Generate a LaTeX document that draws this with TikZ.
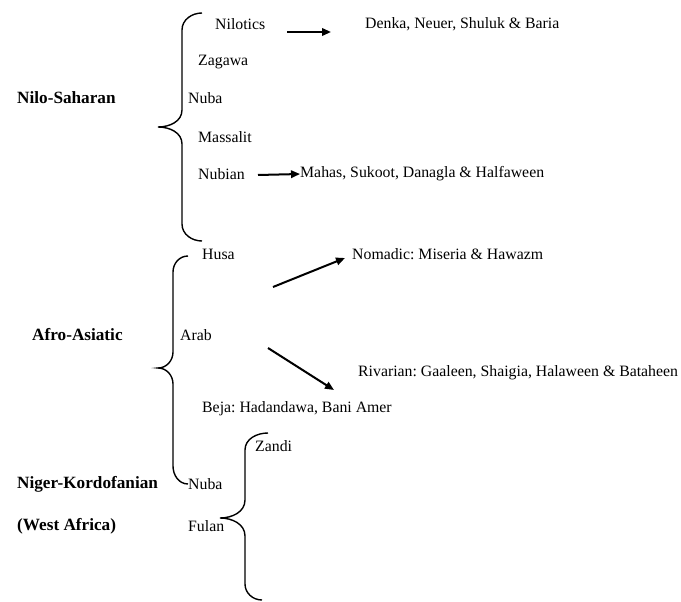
\documentclass[tikz,border=0pt]{standalone}
\usepackage{fontspec}
\setmainfont{Liberation Serif}
\usetikzlibrary{arrows.meta,calc}
\frenchspacing
\begin{document}
\begin{tikzpicture}[x=1pt,y=-1pt,
  font=\fontsize{15.8}{18}\selectfont,
  lbl/.style={anchor=west,inner sep=0pt},
  grp/.style={lbl,font=\fontsize{17.2}{20}\selectfont\bfseries},
  bracepath/.style={line width=1.4pt},
  arr/.style={line width=2pt,-{Triangle[length=9pt,width=7.5pt]}}]
\useasboundingbox (0,0) rectangle (681,602);
\fill[white] (0,0) rectangle (681,602);

% labels
\node[lbl] (nil) at (215,24) {Nilotics};
\node[lbl] (denka) at (365,24) {Denka, Neuer, Shuluk \& Baria};
\node[lbl] (zag) at (198,62) {Zagawa};
\node[grp] (ns) at (17,98) {Nilo-Saharan};
\node[lbl] (nubaA) at (188,98) {Nuba};
\node[lbl] (mass) at (198,137) {Massalit};
\node[lbl] (nubian) at (198,174) {Nubian};
\node[lbl] (mahas) at (300,174) {Mahas, Sukoot, Danagla \& Halfaween};
\node[lbl] (husa) at (202,254) {Husa};
\node[lbl] (nomad) at (352,254) {Nomadic: Miseria \& Hawazm};
\node[grp] (aa) at (32,335) {Afro-Asiatic};
\node[lbl] (arab) at (180,335) {Arab};
\node[lbl] (riv) at (358,373) {Rivarian: Gaaleen, Shaigia, Halaween \& Bataheen};
\node[lbl] (beja) at (202,409) {Beja: Hadandawa, Bani Amer};
\node[lbl] (zandi) at (255,446) {Zandi};
\node[grp] (nk) at (17,484) {Niger-Kordofanian};
\node[lbl] (nubaB) at (188,484) {Nuba};
\node[grp] (wa) at (17,526) {(West Africa)};
\node[lbl] (fulan) at (188,526) {Fulan};

% arrow end points
\coordinate (a1s) at (287,32);
\coordinate (a1e) at (331,32);
\coordinate (a2s) at (258,175);
\coordinate (a3s) at (273,287);
\coordinate (a3e) at (345,258);
\coordinate (a4s) at (268,348);
\coordinate (a4e) at (334,390);

\draw[arr] (a1s) -- (a1e);
\draw[arr] (a2s) -- (mahas.west);
\draw[arr] (a3s) -- (a3e);
\draw[arr] (a4s) -- (a4e);

% braces
\draw[bracepath] (202,13) to[out=180,in=90] (182,30) -- (182,110)
  to[out=-90,in=0] (158,127) to[out=0,in=90] (182,144) -- (182,224)
  to[out=-90,in=180] (202,241);
\draw[bracepath] (188,256) to[out=180,in=90] (173,272) -- (173,352)
  to[out=-90,in=0] (158,368) to[out=0,in=90] (173,384) -- (173,466)
  to[out=-90,in=180] (nubaB.west);
\draw[bracepath] (268,433) to[out=180,in=90] (245,450) -- (245,500)
  to[out=-90,in=0] (220,518) to[out=0,in=90] (245,536) -- (245,584)
  to[out=-90,in=180] (262,600);
\end{tikzpicture}
\end{document}
